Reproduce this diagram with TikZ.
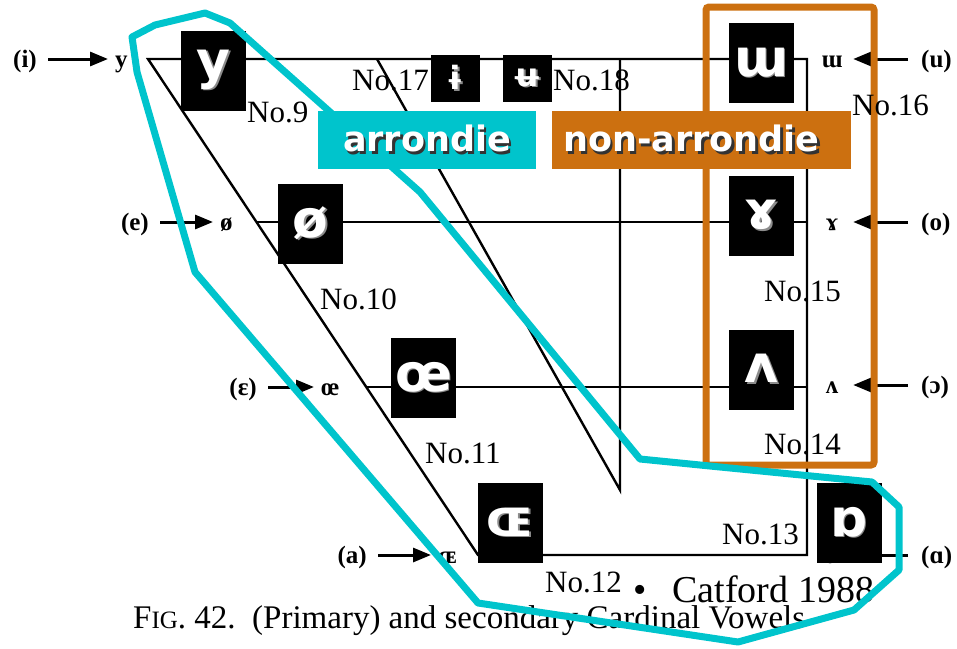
\documentclass[tikz,border=0pt]{standalone}
\usepackage{fontspec}
\setmainfont{Liberation Serif}
\newfontfamily\ipasans{DejaVu Sans}
\usepackage{xcolor}
\usetikzlibrary{arrows.meta,positioning}
\definecolor{roundcol}{RGB}{0,196,204}
\definecolor{spreadcol}{RGB}{204,112,16}
\newcommand{\dropshadow}[1]{\makebox[0pt][l]{\hspace{2.5pt}\raisebox{-2.5pt}{\textcolor{black!80}{#1}}}#1}
\newcommand{\haloglyph}[1]{\makebox[0pt][l]{\hspace{1.5pt}\raisebox{-1.5pt}{\textcolor{black!45}{#1}}}#1}

\begin{document}
\begin{tikzpicture}[
  x=1pt,y=-1pt,
  chart/.style={line width=2.4pt},
  arr/.style={-{Triangle[length=18pt,width=14pt]},line width=3pt,shorten <=11pt,shorten >=7pt},
  scan/.style={inner sep=0pt,font=\bfseries\fontsize{25}{25}\selectfont},
  vowel/.style={rectangle,fill=black,text=white,inner sep=0pt,minimum width=65pt,minimum height=80pt,font=\ipasans\bfseries\fontsize{52}{52}\selectfont},
  smallvowel/.style={vowel,minimum width=49pt,minimum height=47pt,font=\ipasans\bfseries\fontsize{32}{32}\selectfont},
  num/.style={anchor=base west,inner sep=0pt,font=\fontsize{31}{31}\selectfont},
  tag/.style={rectangle,text=white,inner sep=0pt,minimum height=58pt,font=\ipasans\bfseries\fontsize{35}{35}\selectfont}
]
\useasboundingbox (0,0) rectangle (957,648);

\coordinate (tl) at (148,59);
\coordinate (tr) at (807,59);
\coordinate (br) at (807,555);
\coordinate (bl) at (478,555);
\coordinate (el) at (256,222);
\coordinate (er) at (807,222);
\coordinate (oel) at (366,387);
\coordinate (oer) at (807,387);
\coordinate (ct) at (377,59);
\coordinate (cb) at (620,490);
\coordinate (cv) at (620,59);
\draw[chart] (bl) -- (tl) -- (tr) -- (br) -- cycle;
\draw[chart] (el) -- (er);
\draw[chart] (oel) -- (oer);
\draw[chart] (ct) -- (cb) -- (cv);

\node[scan,anchor=base east] (li) at (37,67) {(i)};
\node[scan,anchor=base west] (sy) at (115,67) {y};
\node[scan,anchor=base east] (le) at (149,230) {(e)};
\node[scan,anchor=base west] (so) at (220,230) {ø};
\node[scan,anchor=base east] (leps) at (257,395) {(ɛ)};
\node[scan,anchor=base west] (soe) at (321,395) {œ};
\node[scan,anchor=base east] (la) at (367,563) {(a)};
\node[scan,anchor=base west] (sOE) at (438,563) {ɶ};
\draw[arr] ([yshift=8pt]li.base east) -- ([yshift=8pt]sy.base west);
\draw[arr] ([yshift=8pt]le.base east) -- ([yshift=8pt]so.base west);
\draw[arr] ([yshift=8pt]leps.base east) -- ([yshift=8pt]soe.base west);
\draw[arr] ([yshift=8pt]la.base east) -- ([yshift=8pt]sOE.base west);

\node[scan,anchor=base,minimum width=22pt] (smu) at (832,67) {ɯ};
\node[scan,anchor=base west] (lu) at (921,67) {(u)};
\node[scan,anchor=base,minimum width=22pt] (sram) at (832,230) {ɤ};
\node[scan,anchor=base west] (lo) at (921,230) {(o)};
\node[scan,anchor=base,minimum width=22pt] (swedge) at (832,393) {ʌ};
\node[scan,anchor=base west] (lopen) at (921,393) {(ɔ)};
\node[scan,anchor=base,minimum width=22pt] (salpha) at (832,563) {ɑ};
\node[scan,anchor=base west] (lalpha) at (921,563) {(ɑ)};
\draw[arr,shorten <=13pt,shorten >=10pt] ([yshift=8pt]lu.base west) -- ([yshift=8pt]smu.base east);
\draw[arr,shorten <=13pt,shorten >=10pt] ([yshift=8pt]lo.base west) -- ([yshift=8pt]sram.base east);
\draw[arr,shorten <=13pt,shorten >=10pt] ([yshift=8pt]lopen.base west) -- ([yshift=8pt]swedge.base east);
\draw[arr,shorten <=13pt,shorten >=10pt] ([yshift=8pt]lalpha.base west) -- ([yshift=8pt]salpha.base east);

\node[anchor=base west,inner sep=0pt,font=\fontsize{33}{33}\selectfont] (caption) at (133,628) {F{\fontsize{25}{25}\selectfont IG}. 42.\ \ (Primary) and secondary Cardinal Vowels};

\node[vowel] (vy) at (213.5,70.5) {\haloglyph{y}};
\node[vowel] (vo) at (310.5,223.5) {\haloglyph{ø}};
\node[vowel] (voe) at (423.5,378) {\haloglyph{œ}};
\node[vowel] (vOE) at (510.5,523) {\haloglyph{ɶ}};
\node[vowel] (vturn) at (849,523) {\haloglyph{ɒ}};
\node[vowel] (vmu) at (761.5,63) {\haloglyph{ɯ}};
\node[vowel] (vram) at (761.5,216) {\haloglyph{ɤ}};
\node[vowel] (vwedge) at (761.5,369.5) {\haloglyph{ʌ}};
\node[smallvowel] (vbari) at (455.5,78.5) {\haloglyph{ɨ}};
\node[smallvowel] (vbaru) at (527.5,78.5) {\haloglyph{ʉ}};

\node[anchor=base west,inner sep=0pt,font=\fontsize{38}{38}\selectfont] (catford) at (633,602) {\textbullet\hspace{26pt}Catford 1988};

\node[draw=spreadcol,line width=7pt,rounded corners=3pt,minimum width=168pt,minimum height=458pt,inner sep=0pt] (unroundgroup) at (790,236) {};
\draw[roundcol,line width=7pt,line join=round] (132,37) -- (137,72) -- (195,272) -- (478,603) -- (738,642) -- (854,610) -- (899,570) -- (899,507) -- (872,482) -- (720,467) -- (640,459) -- (420,192) -- (230,23) -- (205,13) -- (155,25) -- cycle;

\node[tag,fill=roundcol,minimum width=218pt] (rounded) at (427,140) {\dropshadow{arrondie}};
\node[tag,fill=spreadcol,minimum width=299pt] (unrounded) at (701.5,140) {\dropshadow{non-arrondie}\hspace*{20pt}};

\node[num] (n9) at (247,122) {No.9};
\node[num] (n17) at (352,90) {No.17};
\node[num] (n18) at (553,90) {No.18};
\node[num] (n16) at (852,115) {No.16};
\node[num] (n10) at (320,309) {No.10};
\node[num] (n11) at (425,463) {No.11};
\node[num] (n15) at (764,301) {No.15};
\node[num] (n14) at (764,454) {No.14};
\node[num] (n13) at (722,544) {No.13};
\node[num] (n12) at (545,592) {No.12};
\end{tikzpicture}
\end{document}
